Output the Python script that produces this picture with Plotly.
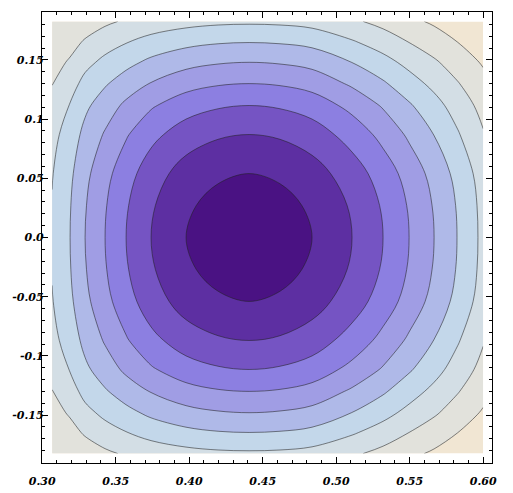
import plotly.graph_objects as go

# grid positions (data units) where the surface was sampled
X_VALUES = [0.3068, 0.3190, 0.3292, 0.3428, 0.3571, 0.3741, 0.3979, 0.4197, 0.4408,
            0.4618, 0.4836, 0.5108, 0.5319, 0.5496, 0.5666, 0.5822, 0.6000]
Y_VALUES = [-0.1825, -0.1647, -0.148, -0.130, -0.1115, -0.087, -0.054, -0.027, 0.0,
            0.027, 0.054, 0.087, 0.1115, 0.130, 0.148, 0.1647, 0.1825]

Z_VALUES = [
    [1.15, 1.30, 1.48, 1.82, 2.12, 2.40, 2.67, 2.81, 2.85, 2.81, 2.65, 2.17, 1.70, 1.22, 0.86, 0.52, 0.20],
    [1.35, 1.67, 2.12, 2.60, 2.97, 3.38, 3.75, 3.94, 4.00, 3.94, 3.75, 3.12, 2.56, 2.00, 1.50, 1.02, 0.50],
    [1.63, 2.12, 2.72, 3.25, 3.72, 4.22, 4.69, 4.92, 5.00, 4.92, 4.69, 3.99, 3.34, 2.72, 2.14, 1.55, 0.90],
    [1.97, 2.60, 3.30, 3.90, 4.47, 5.05, 5.63, 5.91, 6.00, 5.91, 5.63, 4.85, 4.13, 3.41, 2.75, 2.08, 1.30],
    [2.35, 3.05, 3.80, 4.50, 5.20, 5.88, 6.56, 6.89, 7.00, 6.89, 6.56, 5.71, 4.90, 4.12, 3.35, 2.59, 1.68],
    [2.70, 3.45, 4.28, 5.10, 5.90, 6.72, 7.50, 7.88, 8.00, 7.88, 7.50, 6.60, 5.70, 4.83, 3.98, 3.12, 2.08],
    [2.95, 3.80, 4.74, 5.68, 6.60, 7.53, 8.44, 8.86, 9.00, 8.86, 8.44, 7.49, 6.54, 5.61, 4.66, 3.72, 2.55],
    [3.05, 3.95, 4.93, 5.92, 6.90, 7.88, 8.86, 9.30, 9.45, 9.30, 8.86, 7.88, 6.89, 5.91, 4.92, 3.94, 2.71],
    [3.10, 4.00, 5.00, 6.00, 7.00, 8.00, 9.00, 9.45, 9.60, 9.45, 9.00, 8.00, 7.00, 6.00, 5.00, 4.00, 2.75],
    [3.05, 3.95, 4.93, 5.92, 6.90, 7.88, 8.86, 9.30, 9.45, 9.30, 8.86, 7.88, 6.89, 5.91, 4.92, 3.94, 2.71],
    [2.95, 3.80, 4.74, 5.68, 6.60, 7.53, 8.44, 8.86, 9.00, 8.86, 8.44, 7.49, 6.54, 5.61, 4.66, 3.72, 2.55],
    [2.70, 3.45, 4.28, 5.10, 5.90, 6.72, 7.50, 7.88, 8.00, 7.88, 7.50, 6.60, 5.70, 4.83, 3.98, 3.12, 2.08],
    [2.35, 3.05, 3.80, 4.50, 5.20, 5.88, 6.56, 6.89, 7.00, 6.89, 6.56, 5.71, 4.90, 4.12, 3.35, 2.59, 1.68],
    [1.97, 2.60, 3.30, 3.90, 4.47, 5.05, 5.63, 5.91, 6.00, 5.91, 5.63, 4.85, 4.13, 3.41, 2.75, 2.08, 1.30],
    [1.63, 2.12, 2.72, 3.25, 3.72, 4.22, 4.69, 4.92, 5.00, 4.92, 4.69, 3.99, 3.34, 2.72, 2.14, 1.55, 0.90],
    [1.35, 1.67, 2.12, 2.60, 2.97, 3.38, 3.75, 3.94, 4.00, 3.94, 3.75, 3.12, 2.56, 2.00, 1.50, 1.02, 0.50],
    [1.15, 1.30, 1.48, 1.82, 2.12, 2.40, 2.67, 2.81, 2.85, 2.81, 2.65, 2.17, 1.70, 1.22, 0.86, 0.52, 0.20],
]

# one colour per band, lowest band first
BAND_COLORS = ["#f1e6d3", "#e2e2dc", "#d3dee5", "#c3d7ea", "#afb9e8",
               "#a09de4", "#8c7fe1", "#7554c3", "#5d2fa2", "#4a1283"]

X_TICKS = [0.30, 0.35, 0.40, 0.45, 0.50, 0.55, 0.60]
X_TICK_LABELS = ["0.30", "0.35", "0.40", "0.45", "0.50", "0.55", "0.60"]
Y_TICKS = [-0.15, -0.1, -0.05, 0.0, 0.05, 0.1, 0.15]
Y_TICK_LABELS = ["-0.15", "-0.1", "-0.05", "0.0", "0.05", "0.1", "0.15"]

n = len(BAND_COLORS) - 1
colorscale = [[i / n, c] for i, c in enumerate(BAND_COLORS)]

fig = go.Figure(
    go.Contour(
        x=X_VALUES,
        y=Y_VALUES,
        z=Z_VALUES,
        autocontour=False,
        contours=dict(start=1, end=9, size=1, coloring="fill"),
        colorscale=colorscale,
        showscale=False,
        line=dict(color="rgba(35,35,35,0.55)", width=1, smoothing=1.0),
        hoverinfo="skip",
    )
)

tick_font = dict(family="DejaVu Serif", size=11, color="black", style="italic", weight="bold")
axis_common = dict(
    automargin=False,
    showgrid=False,
    zeroline=False,
    showline=True,
    linecolor="black",
    linewidth=1.3,
    mirror="allticks",
    ticks="inside",
    ticklen=6,
    tickwidth=1.2,
    tickcolor="black",
    tickfont=tick_font,
    tickmode="array",
)

# the page body keeps its default 8px margin, so the figure is sized to fit inside it
fig.update_layout(
    width=505,
    height=485,
    margin=dict(l=34, r=21, t=4, b=30, pad=0),
    paper_bgcolor="white",
    plot_bgcolor="white",
    showlegend=False,
    xaxis=dict(
        range=[0.2999, 0.606],
        tickvals=X_TICKS,
        ticktext=X_TICK_LABELS,
        ticklabelstandoff=8,
        minor=dict(ticks="inside", ticklen=3, tickwidth=1, tickcolor="black",
                   tickmode="linear", tick0=0.30, dtick=0.01, showgrid=False),
        **axis_common,
    ),
    yaxis=dict(
        range=[-0.1905, 0.1905],
        tickvals=Y_TICKS,
        ticktext=Y_TICK_LABELS,
        ticklabelstandoff=-5,
        minor=dict(ticks="inside", ticklen=3, tickwidth=1, tickcolor="black",
                   tickmode="linear", tick0=0.0, dtick=0.01, showgrid=False),
        **axis_common,
    ),
)

fig.write_html("out.html")
